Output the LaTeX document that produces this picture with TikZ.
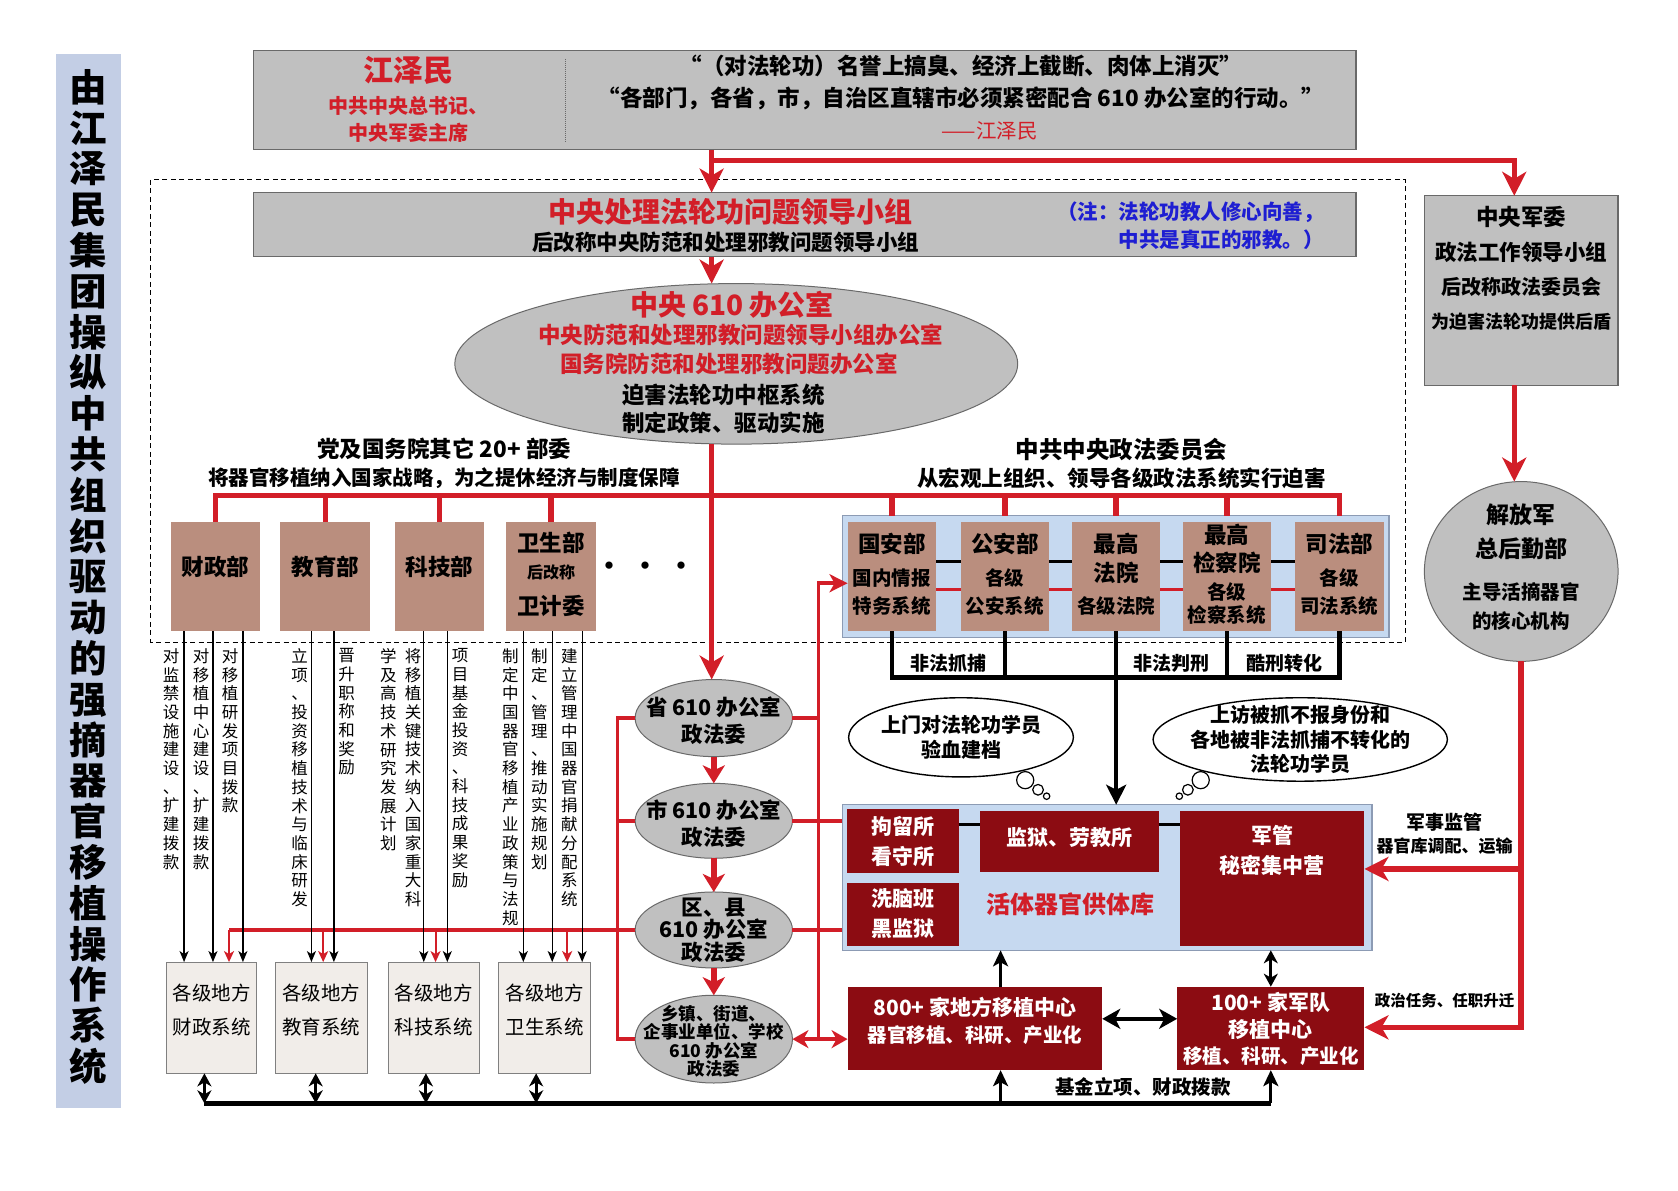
\documentclass[tikz,border=0pt]{standalone}
\usepackage{fontspec}
\setmainfont{Noto Sans CJK SC}
\usetikzlibrary{arrows.meta,shapes.geometric,calc}
\definecolor{cred}{RGB}{210,30,40}
\definecolor{dred}{RGB}{140,12,18}
\definecolor{gbox}{RGB}{192,192,192}
\definecolor{gborder}{RGB}{105,105,105}
\definecolor{brn}{RGB}{186,142,126}
\definecolor{lblue}{RGB}{198,217,240}
\definecolor{lbord}{RGB}{140,155,180}
\definecolor{beige}{RGB}{241,237,233}
\definecolor{tbar}{RGB}{195,206,229}
\definecolor{nblue}{RGB}{30,30,210}
\newcommand\fsz[2]{\fontsize{#1pt}{#2pt}\selectfont}
\def\vsA#1{#1\vsB}
\def\vsB#1{\ifx#1\relax\else\\#1\expandafter\vsB\fi}
\newcommand\rbx[7]{\node[#2,minimum width={(#5-#3)*1.0702pt},minimum height={(#6-#4)*1.0702pt}] (#1) at ({(#3+#5)/2},{(#4+#6)/2}) {#7};}
\begin{document}
\begin{tikzpicture}[x=1.0702pt,y=-1.0702pt,
  every node/.style={inner sep=0pt,outer sep=0pt},
  graybox/.style={draw=gborder,fill=gbox,line width=1.2pt},
  brownbox/.style={fill=brn},
  drbox/.style={fill=dred},
  localbox/.style={draw=gray,fill=beige,line width=1pt},
  contbox/.style={draw=lbord,fill=lblue,line width=1.2pt},
  grayell/.style={ellipse,draw=gborder,fill=gbox,line width=1pt},
  bubble/.style={ellipse,draw=black,fill=white,line width=1.4pt},
  bubc/.style={circle,draw=black,fill=white,line width=1.2pt},
  redthick/.style={draw=cred,line width=5.5pt},
  redarr/.style={redthick,-{Stealth[length=24pt,width=24pt,inset=7pt]}},
  redarrS/.style={redthick,-{Stealth[length=18pt,width=22pt,inset=5pt]}},
  rednet/.style={draw=cred,line width=3.5pt},
  rednetarr/.style={rednet,-{Stealth[length=18pt,width=18pt,inset=5pt]}},
  reddbl/.style={rednet,{Stealth[length=16pt,width=18pt,inset=5pt]}-{Stealth[length=16pt,width=18pt,inset=5pt]}},
  redsmall/.style={draw=cred,line width=2pt,-{Stealth[length=11pt,width=10pt,inset=3pt]}},
  blkthin/.style={draw=black,line width=1.3pt,-{Stealth[length=11pt,width=9pt,inset=3pt]}},
  blkthick/.style={draw=black,line width=4.5pt},
  blkarrL/.style={blkthick,-{Stealth[length=20pt,width=20pt,inset=5pt]}},
  blkarrM/.style={draw=black,line width=3pt,-{Stealth[length=16pt,width=15pt,inset=4pt]}},
  blkdblM/.style={draw=black,line width=3pt,{Stealth[length=13pt,width=14pt,inset=4pt]}-{Stealth[length=13pt,width=14pt,inset=4pt]}},
  blkdblL/.style={blkthick,{Stealth[length=18pt,width=20pt,inset=5pt]}-{Stealth[length=18pt,width=20pt,inset=5pt]}},
  vtext/.style={anchor=north,align=center,font=\fsz{16.5}{18.7}},
  wtxt/.style={text=white,align=center,font=\fsz{21}{30}\bfseries}
]
\useasboundingbox (0,0) rectangle (1568,1112);
\fill[white] (0,0) rectangle (1568,1112);

% coordinates
\coordinate (cx) at (665,0);
\coordinate (rcol) at (1415,0);
\coordinate (bus) at (0,463);
\coordinate (yb) at (0,525);
\coordinate (yr) at (0,551);
\coordinate (yblk) at (0,633);
\coordinate (ga) at (0,545);
\coordinate (lx) at (577,0);
\coordinate (rx) at (765,0);
\coordinate (yc) at (0,770);
\coordinate (yd) at (0,952);
\coordinate (a800) at (935,0);
\coordinate (ybus) at (0,1031);
\coordinate (yr1) at (0,812);
\coordinate (yr2) at (0,960);

% dashed frame
\draw[dash pattern=on 5pt off 3.5pt,line width=1pt] (141,168) rectangle (1313,600);

% title bar
\rbx{titlebar}{fill=tbar}{52}{50}{113}{1035}{}
\node[font=\fsz{37.5}{40.8}\bfseries,align=center] (title) at (82.5,539) {\vsA 由江泽民集团操纵中共组织驱动的强摘器官移植操作系统\relax};

% top box
\rbx{jzm}{graybox}{237}{47}{1267}{140}{}
\draw[gborder,densely dotted,line width=1pt] (528,55) -- (528,133);
\node[text=cred,font=\fsz{30}{32}\bfseries] (jzmname) at (382,66) {江泽民};
\node[text=cred,font=\fsz{20}{26.5}\bfseries,align=center] (jzmtitle) at (382,111.5) {中共中央总书记、\\中央军委主席};
\node[font=\fsz{22.5}{32}\bfseries,align=center] (quote) at (898,77) {“（对法轮功）名誉上搞臭、经济上截断、肉体上消灭”\\“各部门，各省，市，自治区直辖市必须紧密配合 610 办公室的行动。”};
\node[text=cred,font=\fsz{20.5}{24}] (quoteby) at (925,122) {——江泽民};

% leading group
\rbx{lead}{graybox}{237}{180}{1267}{240}{}
\node[text=cred,font=\fsz{28}{30}\bfseries] (leadt1) at (683,198) {中央处理法轮功问题领导小组};
\node[font=\fsz{21.5}{24}\bfseries] (leadt2) at (678,226) {后改称中央防范和处理邪教问题领导小组};
\node[text=nblue,font=\fsz{20.5}{27.5}\bfseries,align=right,anchor=east] (note) at (1237,211) {（注：法轮功教人修心向善，\\中共是真正的邪教。）};

% central 610
\node[grayell,minimum width={526*1.0702pt},minimum height={150*1.0702pt}] (e610) at (688,340) {};
\node[text=cred,font=\fsz{28}{30}\bfseries] (e610a) at (684,285) {中央 610 办公室};
\node[text=cred,font=\fsz{22.5}{29}\bfseries] (e610b) at (692,313) {中央防范和处理邪教问题领导小组办公室};
\node[text=cred,font=\fsz{22.5}{29}\bfseries] (e610b2) at (681,340) {国务院防范和处理邪教问题办公室};
\node[font=\fsz{22.5}{28}\bfseries,align=center] (e610c) at (676,382) {迫害法轮功中枢系统\\制定政策、驱动实施};

% headers
\node[font=\fsz{22.5}{28}\bfseries,align=center] (hdl) at (415,433) {\fsz{22.5}{28}党及国务院其它 20+ 部委\\\fsz{20.5}{28}将器官移植纳入国家战略，为之提休经济与制度保障};
\node[font=\fsz{22}{28}\bfseries,align=center] (hdr) at (1048,433) {\fsz{23.5}{28}中共中央政法委员会\\\fsz{21.5}{28}从宏观上组织、领导各级政法系统实行迫害};

% left ministries
\rbx{caizheng}{brownbox}{160}{488}{243}{590}{}
\rbx{jiaoyu}{brownbox}{262}{488}{346}{590}{}
\rbx{keji}{brownbox}{369}{488}{452}{590}{}
\rbx{weisheng}{brownbox}{473}{488}{557}{590}{}
\node[font=\fsz{22.5}{24}\bfseries] (caizhengt) at (201.5,530) {财政部};
\node[font=\fsz{22.5}{24}\bfseries] (jiaoyut) at (304,530) {教育部};
\node[font=\fsz{22.5}{24}\bfseries] (kejit) at (410.5,530) {科技部};
\node[font=\fsz{22.5}{24}\bfseries] (ws1) at (515,507) {卫生部};
\node[font=\fsz{16}{18}\bfseries] (ws2) at (515,535) {后改称};
\node[font=\fsz{22.5}{24}\bfseries] (ws3) at (515,566) {卫计委};
\node[font=\fsz{26}{26}\bfseries] (dots) at (603,531) {·\hspace{10pt}·\hspace{10pt}·};

% right ministries
\rbx{c1}{contbox}{787}{482}{1298}{596}{}
\rbx{guoan}{brownbox}{792}{488}{875}{590}{}
\rbx{gongan}{brownbox}{898}{488}{980}{590}{}
\rbx{fayuan}{brownbox}{1002}{488}{1084}{590}{}
\rbx{jiancha}{brownbox}{1105}{488}{1188}{590}{}
\rbx{sifa}{brownbox}{1210}{488}{1293}{590}{}
\node[font=\fsz{22.5}{24}\bfseries] (guoant1) at (833.5,508) {国安部};
\node[font=\fsz{19.5}{27.8}\bfseries,align=center] (guoant2) at (833.5,553) {国内情报\\特务系统};
\node[font=\fsz{22.5}{24}\bfseries] (gongant1) at (939,508) {公安部};
\node[font=\fsz{19.5}{27.8}\bfseries,align=center] (gongant2) at (939,553) {各级\\公安系统};
\node[font=\fsz{22.5}{29}\bfseries,align=center] (fayuant1) at (1043,521.5) {最高\\法院};
\node[font=\fsz{19.5}{22}\bfseries] (fayuant2) at (1043,566) {各级法院};
\node[font=\fsz{22.5}{28}\bfseries,align=center] (jianchat1) at (1146.5,513) {最高\\检察院};
\node[font=\fsz{19.5}{23.5}\bfseries,align=center] (jianchat2) at (1146.5,564) {各级\\检察系统};
\node[font=\fsz{22.5}{24}\bfseries] (sifat1) at (1251.5,508) {司法部};
\node[font=\fsz{19.5}{27.8}\bfseries,align=center] (sifat2) at (1251.5,553) {各级\\司法系统};

\node[font=\fsz{19}{20}\bfseries] (lb1) at (886,620) {非法抓捕};
\node[font=\fsz{19}{20}\bfseries] (lb2) at (1095,620) {非法判刑};
\node[font=\fsz{19}{20}\bfseries] (lb3) at (1200,620) {酷刑转化};

% middle ellipses
\node[grayell,minimum width={147*1.0702pt},minimum height={72*1.0702pt}] (sheng) at (667,671) {};
\node[grayell,minimum width={147*1.0702pt},minimum height={70*1.0702pt}] (shi) at (667,767) {};
\node[grayell,minimum width={147*1.0702pt},minimum height={71*1.0702pt}] (quxian) at (667,869) {};
\node[grayell,minimum width={147*1.0702pt},minimum height={82*1.0702pt}] (xiangzhen) at (667,971) {};
\node[font=\fsz{21.5}{27}\bfseries,align=center] (shengt) at (667,673) {省 610 办公室\\政法委};
\node[font=\fsz{21.5}{27}\bfseries,align=center] (shit) at (667,770) {市 610 办公室\\政法委};
\node[font=\fsz{21.5}{22.5}\bfseries,align=center] (quxiant) at (667,869) {区、县\\610 办公室\\政法委};
\node[font=\fsz{17.5}{18.2}\bfseries,align=center] (xiangzhent) at (667,973) {乡镇、街道、\\企事业单位、学校\\610 办公室\\政法委};

% local boxes
\rbx{lcz}{localbox}{156}{899}{240}{1003}{}
\rbx{ljy}{localbox}{257}{899}{343}{1003}{}
\rbx{lkj}{localbox}{363}{899}{448}{1003}{}
\rbx{lws}{localbox}{466}{899}{552}{1003}{}
\node[font=\fsz{19.5}{34},align=center] (lczt) at (198,944) {各级地方\\财政系统};
\node[font=\fsz{19.5}{34},align=center] (ljyt) at (300,944) {各级地方\\教育系统};
\node[font=\fsz{19.5}{34},align=center] (lkjt) at (405.5,944) {各级地方\\科技系统};
\node[font=\fsz{19.5}{34},align=center] (lwst) at (509,944) {各级地方\\卫生系统};

% vertical texts
\node[vtext] (v1) at (160,606) {\vsA 对监禁设施建设、扩建拨款\relax};
\node[vtext] (v2) at (188,606) {\vsA 对移植中心建设、扩建拨款\relax};
\node[vtext] (v3) at (215,606) {\vsA 对移植研发项目拨款\relax};
\node[vtext] (v4) at (280,606) {\vsA 立项、投资移植技术与临床研发\relax};
\node[vtext] (v5) at (324,606) {\vsA 晋升职称和奖励\relax};
\node[vtext] (v6) at (363,606) {\vsA 学及高技术研究发展计划\relax};
\node[vtext] (v7) at (386,606) {\vsA 将移植关键技术纳入国家重大科\relax};
\node[vtext] (v8) at (430,606) {\vsA 项目基金投资、科技成果奖励\relax};
\node[vtext] (v9) at (477,606) {\vsA 制定中国器官移植产业政策与法规\relax};
\node[vtext] (v10) at (504,606) {\vsA 制定、管理、推动实施规划\relax};
\node[vtext] (v11) at (532,606) {\vsA 建立管理中国器官捐献分配系统\relax};

% bubbles
\node[bubble,minimum width={210*1.0702pt},minimum height={74*1.0702pt}] (bub1) at (898,689) {};
\node[font=\fsz{20}{24.5}\bfseries,align=center] (bub1t) at (898,689) {上门对法轮功学员\\验血建档};
\node[bubc,minimum size={16*1.0702pt}] (bub1c1) at (958,729) {};
\node[bubc,minimum size={10*1.0702pt}] (bub1c2) at (970,738) {};
\node[bubc,minimum size={6*1.0702pt}] (bub1c3) at (978,744) {};
\node[bubble,minimum width={275*1.0702pt},minimum height={78*1.0702pt}] (bub2) at (1215,691) {};
\node[font=\fsz{20}{24.6}\bfseries,align=center] (bub2t) at (1215,691) {上访被抓不报身份和\\各地被非法抓捕不转化的\\法轮功学员};
\node[bubc,minimum size={16*1.0702pt}] (bub2c1) at (1122,729) {};
\node[bubc,minimum size={10*1.0702pt}] (bub2c2) at (1110,738) {};
\node[bubc,minimum size={6*1.0702pt}] (bub2c3) at (1102,744) {};

% organ supply pool
\rbx{c2}{contbox}{787}{752}{1282}{888}{}
\rbx{jl}{drbox}{791}{756}{896}{816}{}
\rbx{xn}{drbox}{791}{825}{896}{884}{}
\rbx{jy}{drbox}{916}{758}{1083}{815}{}
\rbx{jg}{drbox}{1103}{758}{1275}{884}{}
\node[wtxt] (jlt) at (843.5,786) {拘留所\\看守所};
\node[wtxt] (xnt) at (843.5,854) {洗脑班\\黑监狱};
\node[wtxt] (jyt) at (999.5,783) {监狱、劳教所};
\node[wtxt] (jgt) at (1189,795) {军管\\秘密集中营};
\node[text=cred,font=\fsz{24}{26}\bfseries] (hti) at (1000,845) {活体器官供体库};

% transplant centres
\rbx{c800}{drbox}{792}{922}{1030}{1000}{}
\rbx{c100}{drbox}{1100}{922}{1275}{1000}{}
\node[text=white,font=\fsz{21}{27.8}\bfseries,align=center] (c800t) at (911,954) {\fsz{21}{27.8}800+ 家地方移植中心\\\fsz{19.5}{27.8}器官移植、科研、产业化};
\node[text=white,font=\fsz{21}{26.2}\bfseries,align=center] (c100t) at (1187.5,961.5) {\fsz{21}{26.2}100+ 家军队\\\fsz{21}{26.2}移植中心\\\fsz{19.5}{26.2}移植、科研、产业化};
\node[font=\fsz{19.5}{20}\bfseries] (fund) at (1068,1016) {基金立项、财政拨款};

% right column
\rbx{cmc}{graybox}{1331}{183}{1512}{360}{}
\node[font=\fsz{21.5}{34.2}\bfseries,align=center] (cmct) at (1421.5,251) {\fsz{22.5}{34.2}中央军委\\\fsz{21.5}{34.2}政法工作领导小组\\\fsz{20}{34.2}后改称政法委员会\\\fsz{18}{34.2}为迫害法轮功提供后盾};
\node[grayell,minimum width={181*1.0702pt},minimum height={168*1.0702pt}] (pla) at (1421.5,534) {};
\node[font=\fsz{23}{34}\bfseries,align=center] (plat1) at (1421.5,497) {解放军\\总后勤部};
\node[font=\fsz{19.5}{29}\bfseries,align=center] (plat2) at (1421.5,566.5) {主导活摘器官\\的核心机构};
\node[font=\fsz{19}{20}\bfseries] (mil1) at (1350,768) {军事监管};
\node[font=\fsz{17}{18}\bfseries] (mil2) at (1350,791) {器官库调配、运输};
\node[font=\fsz{15.5}{17}\bfseries] (pol) at (1350,935) {政治任务、任职升迁};

% ---------------- connectors ----------------
\draw[redarr] (jzm.south -| cx) -- (lead.north -| cx);
\draw[redarr] ($(jzm.south -| cx)+(0,10)$) -| (cmc.north -| rcol);
\draw[redarr] (lead.south -| cx) -- (e610.north -| cx);
\draw[redarr] (e610.south -| cx) -- (sheng.north -| cx);
% bus
\draw[redthick] (caizheng.north) -- (caizheng.north |- bus) -- (sifa.north |- bus) -- (sifa.north |- c1.north);
\foreach \n in {jiaoyu,keji,weisheng} \draw[redthick] (\n.north) -- (\n.north |- bus);
\foreach \n in {guoan,gongan,fayuan,jiancha} \draw[redthick] (\n.north |- c1.north) -- (\n.north |- bus);
% links inside c1
\foreach \a/\b in {guoan/gongan,gongan/fayuan,fayuan/jiancha,jiancha/sifa}{
  \draw[black,line width=3pt] (\a.east |- yb) -- (\b.west |- yb);
  \draw[cred,line width=3pt] (\a.east |- yr) -- (\b.west |- yr);
}
% black below c1
\draw[blkthick] (guoan.south) -- (guoan.south |- yblk) -- (sifa.south |- yblk) -- (sifa.south);
\draw[blkthick] (gongan.south) -- (gongan.south |- yblk);
\draw[blkthick] (jiancha.south) -- (jiancha.south |- yblk);
\draw[blkarrL] (fayuan.south) -- (fayuan.south |- c2.north);
% chain of 610 offices
\draw[redarrS] (sheng.south) -- (shi.north);
\draw[redarrS] (shi.south) -- (quxian.north);
\draw[redarrS] (quxian.south) -- (xiangzhen.north);
% left red network
\draw[rednet] (sheng.west) -- (sheng.west -| lx) -- (xiangzhen.west -| lx) -- (xiangzhen.west);
\draw[rednet] (shi.west) -- (shi.west -| lx);
\coordinate (xr1) at (214,0);
\coordinate (xr2) at (302,0);
\coordinate (xr3) at (407,0);
\coordinate (xr4) at (530,0);
\draw[rednet] (quxian.west) -- (quxian.west -| xr1);
\draw[redsmall] (quxian.west -| xr1) -- (lcz.north -| xr1);
\draw[redsmall] (quxian.west -| xr2) -- (ljy.north -| xr2);
\draw[redsmall] (quxian.west -| xr3) -- (lkj.north -| xr3);
\draw[redsmall] (quxian.west -| xr4) -- (lws.north -| xr4);
% right red network
\draw[rednetarr] (xiangzhen.east -| rx) -- (ga -| rx) -- (ga -| guoan.west);
\draw[rednet] (sheng.east) -- (sheng.east -| rx);
\draw[rednet] (shi.east) -- (shi.east -| c2.west);
\draw[rednet] (quxian.east) -- (quxian.east -| c2.west);
\draw[reddbl] (xiangzhen.east) -- (xiangzhen.east -| c800.west);
% ministries to local systems
\foreach \x in {172,199,227}{\coordinate (t) at (\x,0); \draw[blkthin] (caizheng.south -| t) -- (lcz.north -| t);}
\foreach \x in {291,312}{\coordinate (t) at (\x,0); \draw[blkthin] (jiaoyu.south -| t) -- (ljy.north -| t);}
\foreach \x in {396,418}{\coordinate (t) at (\x,0); \draw[blkthin] (keji.south -| t) -- (lkj.north -| t);}
\foreach \x in {489,516,544}{\coordinate (t) at (\x,0); \draw[blkthin] (weisheng.south -| t) -- (lws.north -| t);}
% links inside c2
\draw[black,line width=3pt] (jl.east |- yc) -- (jy.west |- yc);
\draw[black,line width=3pt] (jy.east |- yc) -- (jg.west |- yc);
% transplant centres
\draw[blkdblL] (c800.east |- yd) -- (c100.west |- yd);
\draw[blkarrM] (c800.north -| a800) -- (c2.south -| a800);
\draw[blkdblM] (c100.north) -- (c100.north |- c2.south);
% bottom bus
\coordinate (xb1) at (191,0);
\coordinate (xb2) at (295,0);
\coordinate (xb3) at (398,0);
\coordinate (xb4) at (501,0);
\draw[blkthick] (xb1 |- ybus) -- (c100.south |- ybus);
\draw[blkdblM] (xb1 |- ybus) -- (lcz.south -| xb1);
\draw[blkdblM] (xb2 |- ybus) -- (ljy.south -| xb2);
\draw[blkdblM] (xb3 |- ybus) -- (lkj.south -| xb3);
\draw[blkdblM] (xb4 |- ybus) -- (lws.south -| xb4);
\draw[blkarrM] (a800 |- ybus) -- (c800.south -| a800);
\draw[blkarrM] (c100.south |- ybus) -- (c100.south);
% right column
\draw[redarr] (cmc.south -| rcol) -- (pla.north -| rcol);
\draw[redarr] (pla.south) -- (pla.south |- yr2) -- (c100.east |- yr2);
\draw[redarr] (pla.south |- yr1) -- (jg.east |- yr1);
\end{tikzpicture}
\end{document}
